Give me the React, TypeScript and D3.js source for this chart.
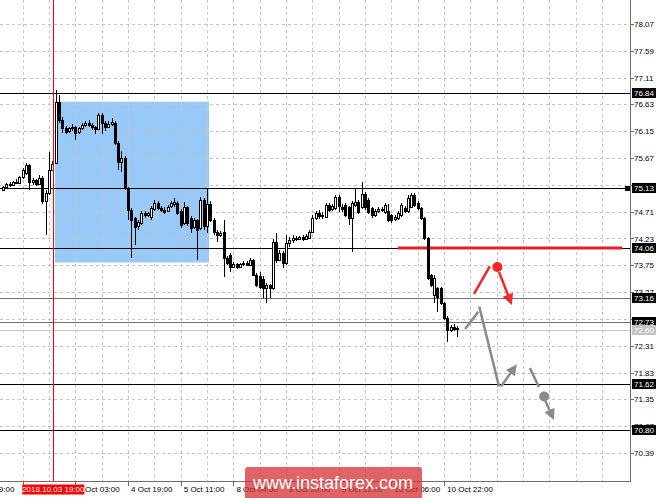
import React, { useRef, useEffect } from 'react';
import * as d3 from 'd3';

const width = 665;
const height = 498;
const plotRight = 630;
const plotBottom = 481;
const font = 'Liberation Sans, Arial, sans-serif';

// hourly candles: [open, high, low, close]
const candles: [number, number, number, number][] = [
  [75.10, 75.17, 75.08, 75.15], [75.15, 75.23, 75.13, 75.21], [75.21, 75.24, 75.15, 75.19], [75.19, 75.26, 75.17, 75.24],
  [75.24, 75.29, 75.20, 75.22], [75.22, 75.35, 75.20, 75.33], [75.33, 75.50, 75.30, 75.46], [75.40, 75.58, 75.37, 75.55],
  [75.55, 75.57, 75.10, 75.24], [75.24, 75.31, 75.19, 75.28], [75.28, 75.30, 75.17, 75.21], [75.21, 75.37, 75.19, 75.31],
  [75.31, 75.34, 74.85, 74.90], [74.90, 75.10, 74.29, 75.05], [75.05, 75.78, 75.00, 75.46], [75.46, 75.62, 75.43, 75.56],
  [75.58, 76.89, 75.56, 76.67], [76.67, 76.80, 76.30, 76.35], [76.35, 76.40, 76.12, 76.21], [76.21, 76.25, 76.10, 76.14],
  [76.14, 76.23, 76.12, 76.20], [76.20, 76.28, 76.15, 76.22], [76.22, 76.24, 75.99, 76.12], [76.12, 76.23, 76.10, 76.20],
  [76.20, 76.30, 76.18, 76.26], [76.26, 76.34, 76.22, 76.30], [76.30, 76.36, 76.22, 76.26], [76.26, 76.30, 76.18, 76.22],
  [76.22, 76.25, 76.10, 76.19], [76.19, 76.48, 76.17, 76.44], [76.44, 76.47, 76.10, 76.30], [76.30, 76.34, 76.15, 76.22],
  [76.22, 76.33, 76.20, 76.28], [76.28, 76.38, 76.25, 76.32], [76.30, 76.34, 75.90, 75.94], [75.94, 75.97, 75.46, 75.60],
  [75.60, 75.80, 75.42, 75.67], [75.67, 75.70, 75.10, 75.13], [75.13, 75.16, 74.56, 74.74], [74.74, 74.78, 73.88, 74.56],
  [74.60, 74.62, 74.11, 74.44], [74.44, 74.56, 74.38, 74.52], [74.51, 74.72, 74.48, 74.69], [74.69, 74.72, 74.60, 74.65],
  [74.65, 74.71, 74.62, 74.68], [74.62, 74.81, 74.56, 74.78], [74.76, 74.92, 74.72, 74.87], [74.87, 74.90, 74.74, 74.78],
  [74.78, 74.82, 74.70, 74.74], [74.74, 74.79, 74.67, 74.71], [74.72, 74.83, 74.70, 74.80], [74.80, 74.90, 74.77, 74.86],
  [74.84, 74.96, 74.79, 74.88], [74.87, 74.90, 74.65, 74.69], [74.72, 74.76, 74.42, 74.47], [74.51, 74.88, 74.47, 74.79],
  [74.79, 74.82, 74.45, 74.51], [74.60, 74.63, 74.33, 74.42], [74.44, 74.60, 74.40, 74.56], [74.56, 74.58, 73.85, 74.38],
  [74.42, 74.97, 74.38, 74.92], [74.92, 74.95, 74.38, 74.45], [74.45, 75.13, 74.33, 74.85], [74.85, 74.90, 74.52, 74.56],
  [74.56, 74.60, 74.30, 74.35], [74.35, 74.38, 74.17, 74.30], [74.30, 74.37, 74.26, 74.33], [74.35, 74.56, 73.54, 73.88],
  [73.88, 73.92, 73.76, 73.79], [73.94, 73.97, 73.63, 73.72], [73.72, 73.81, 73.70, 73.78], [73.78, 73.80, 73.68, 73.72],
  [73.72, 73.80, 73.70, 73.77], [73.77, 73.82, 73.74, 73.79], [73.79, 73.83, 73.73, 73.76], [73.76, 73.88, 73.74, 73.85],
  [73.85, 73.87, 73.55, 73.58], [73.58, 73.62, 73.37, 73.40], [73.55, 73.63, 73.33, 73.36], [73.50, 73.55, 73.17, 73.34],
  [73.34, 73.43, 73.08, 73.40], [73.40, 73.42, 73.17, 73.34], [73.34, 74.22, 73.31, 74.17], [74.17, 74.33, 73.80, 73.85],
  [73.85, 74.02, 73.82, 73.97], [73.97, 74.00, 73.70, 73.79], [73.79, 74.29, 73.76, 74.15], [74.15, 74.26, 74.08, 74.20],
  [74.20, 74.29, 74.15, 74.24], [74.24, 74.27, 74.18, 74.22], [74.22, 74.28, 74.20, 74.25], [74.25, 74.29, 74.19, 74.22],
  [74.22, 74.31, 74.20, 74.27], [74.24, 74.38, 74.22, 74.35], [74.35, 74.65, 74.32, 74.60], [74.60, 74.72, 74.56, 74.69],
  [74.69, 74.74, 74.58, 74.63], [74.63, 74.70, 74.58, 74.65], [74.62, 74.87, 74.60, 74.83], [74.83, 74.87, 74.70, 74.74],
  [74.76, 74.85, 74.72, 74.81], [74.78, 75.01, 74.74, 74.97], [74.97, 75.00, 74.70, 74.80], [74.80, 74.85, 74.70, 74.76],
  [74.83, 74.86, 74.62, 74.65], [74.79, 74.82, 74.47, 74.60], [74.60, 74.90, 73.99, 74.87], [74.83, 75.13, 74.80, 74.88],
  [74.88, 74.92, 74.66, 74.70], [74.80, 75.24, 74.76, 75.03], [75.03, 75.06, 74.74, 74.79], [74.92, 74.95, 74.66, 74.70],
  [74.78, 74.80, 74.60, 74.65], [74.65, 74.76, 74.62, 74.72], [74.72, 74.79, 74.69, 74.76], [74.76, 74.79, 74.70, 74.74],
  [74.70, 74.86, 74.67, 74.83], [74.72, 74.85, 74.52, 74.56], [74.65, 74.67, 74.51, 74.56], [74.58, 74.65, 74.55, 74.62],
  [74.60, 74.72, 74.57, 74.69], [74.65, 74.86, 74.62, 74.83], [74.78, 74.81, 74.69, 74.72], [74.72, 75.00, 74.69, 74.96],
  [74.80, 75.05, 74.78, 75.01], [75.01, 75.04, 74.80, 74.83], [74.87, 74.90, 74.74, 74.78], [74.78, 74.80, 74.56, 74.60],
  [74.60, 74.62, 74.20, 74.24], [74.24, 74.26, 73.49, 73.52], [73.58, 73.60, 73.36, 73.40], [73.22, 73.58, 73.08, 73.52],
  [73.34, 73.36, 72.91, 73.18], [73.34, 73.36, 73.04, 73.08], [73.08, 73.10, 72.77, 72.81], [72.81, 72.84, 72.38, 72.59],
  [72.59, 72.68, 72.56, 72.65], [72.65, 72.70, 72.58, 72.61], [72.61, 72.66, 72.47, 72.63],
];

const priceTicks = [78.07, 77.59, 77.11, 76.63, 76.15, 75.67, 75.19, 74.71, 74.23, 73.75, 73.27, 72.79, 72.31, 71.83, 71.35, 70.87, 70.39];
// the tick at bar 6 sits under the cursor label, so it has no text
const timeTickBars = [-10, 6, 22, 38, 54, 70, 86, 102, 118, 134];
const timeTickLabels = ['2 Oct 19:00', '', '4 Oct 03:00', '4 Oct 19:00', '5 Oct 11:00', '8 Oct 04:00', '8 Oct 20:00', '9 Oct 12:00', '10 Oct 06:00', '10 Oct 22:00'];
const gridBars = [-2, 6, 14, 22, 30, 38, 46, 54, 62, 70, 78, 86, 94, 102, 110, 118, 126, 134, 142, 150, 158, 166, 174, 182];

const levelPrices = [76.84, 75.13, 74.06, 73.16, 72.73, 72.60, 71.62, 70.80];
const levelKinds = ['black', 'black', 'black', 'gray', 'gray', 'light', 'black', 'black'];

const zoneBars = [15.8, 62.6];
const zonePrices = [76.68, 73.80];
const resistanceBars = [120, 188.1];
const resistancePrice = 74.06;
const cursorBar = 15.3;
const cursorLabel = '2018.10.03 19:00';

// forecast sketch
const redUpBars = [143.1, 147.9];
const redUpPrices = [73.24, 73.73];
const redDot = [150.2, 73.72];
const redDownBars = [150.7, 154.6];
const redDownPrices = [73.63, 73.04];
const grayUpBars = [140.4, 144.4];
const grayUpPrices = [72.61, 72.92];
const grayDropBars = [144.7, 150.7];
const grayDropPrices = [73.01, 71.58];
const grayBounceBars = [151.3, 156.1];
const grayBouncePrices = [71.58, 71.98];
const grayFallBars = [160.1, 162.8];
const grayFallPrices = [71.91, 71.57];
const grayDot = [164.4, 71.40];
const grayLastBars = [164.8, 167.4];
const grayLastPrices = [71.32, 70.98];

const kindColor: Record<string, string> = { black: '#000', gray: '#707070', light: '#c8c8c8' };

export default function App() {
  const ref = useRef<SVGSVGElement>(null);

  useEffect(() => {
    if (!ref.current) return;
    const svg = d3.select(ref.current);
    svg.selectAll('*').remove();

    const x = d3.scaleLinear().domain([0, 190]).range([2.96, 2.96 + 3.2917 * 190]);
    const y = d3.scaleLinear().domain([70.39, 78.07]).range([453, 24]);

    svg.append('rect').attr('width', width).attr('height', height).attr('fill', '#fff');

    // zone
    svg.append('rect')
      .attr('x', x(zoneBars[0])).attr('width', x(zoneBars[1]) - x(zoneBars[0]))
      .attr('y', y(zonePrices[0])).attr('height', y(zonePrices[1]) - y(zonePrices[0]))
      .attr('fill', '#99c9f7');

    // grid
    const grid = svg.append('g').attr('stroke', '#c4c4c4').attr('stroke-dasharray', '3,3').attr('shape-rendering', 'crispEdges');
    grid.selectAll('line.h').data(priceTicks).enter().append('line')
      .attr('x1', 0).attr('x2', plotRight).attr('y1', d => Math.round(y(d)) + 0.5).attr('y2', d => Math.round(y(d)) + 0.5);
    grid.selectAll('line.v').data(gridBars).enter().append('line')
      .attr('y1', 0).attr('y2', plotBottom).attr('x1', d => Math.round(x(d)) + 0.5).attr('x2', d => Math.round(x(d)) + 0.5);

    // levels
    svg.append('g').selectAll('line').data(levelPrices).enter().append('line')
      .attr('x1', 0).attr('x2', plotRight)
      .attr('y1', d => Math.round(y(d)) + 0.5).attr('y2', d => Math.round(y(d)) + 0.5)
      .attr('stroke', (d, i) => kindColor[levelKinds[i]]).attr('stroke-width', 1)
      .attr('shape-rendering', 'crispEdges');

    svg.append('line')
      .attr('x1', x(resistanceBars[0])).attr('x2', x(resistanceBars[1]))
      .attr('y1', y(resistancePrice)).attr('y2', y(resistancePrice))
      .attr('stroke', '#e3202a').attr('stroke-width', 3);

    // candles
    const c = svg.append('g').attr('shape-rendering', 'crispEdges');
    const cg = c.selectAll('g').data(candles).enter().append('g');
    cg.append('line')
      .attr('x1', (d, i) => Math.round(x(i)) + 0.5).attr('x2', (d, i) => Math.round(x(i)) + 0.5)
      .attr('y1', d => y(d[1])).attr('y2', d => y(d[2]))
      .attr('stroke', '#000');
    cg.append('rect')
      .attr('x', (d, i) => Math.round(x(i)) - 0.5).attr('width', 2)
      .attr('y', d => Math.round(y(Math.max(d[0], d[3]))) + 0.5)
      .attr('height', d => Math.max(1, Math.round(Math.abs(y(d[0]) - y(d[3])))))
      .attr('fill', d => d[3] >= d[0] ? '#fff' : '#000')
      .attr('stroke', '#000');

    // cursor line
    svg.append('rect')
      .attr('x', Math.round(x(cursorBar))).attr('width', 1)
      .attr('y', 0).attr('height', plotBottom)
      .style('fill', '#ff0000');

    // forecast sketch
    const line = (bars: number[], prices: number[], color: string, arrow: boolean) => {
      const x1 = x(bars[0]), y1 = y(prices[0]), x2 = x(bars[1]), y2 = y(prices[1]);
      const a = Math.atan2(y2 - y1, x2 - x1);
      const len = 11, hw = 5.5;
      const ex = arrow ? x2 - Math.cos(a) * len * 0.8 : x2;
      const ey = arrow ? y2 - Math.sin(a) * len * 0.8 : y2;
      svg.append('line').attr('x1', x1).attr('y1', y1).attr('x2', ex).attr('y2', ey)
        .attr('stroke', color).attr('stroke-width', 2.5);
      if (arrow) {
        const bx = x2 - Math.cos(a) * len, by = y2 - Math.sin(a) * len;
        const pts: [number, number][] = [
          [x2, y2],
          [bx + Math.sin(a) * hw, by - Math.cos(a) * hw],
          [bx - Math.sin(a) * hw, by + Math.cos(a) * hw],
        ];
        svg.append('path').attr('d', d3.line()(pts) + 'Z').attr('fill', color);
      }
    };
    line(redUpBars, redUpPrices, '#f02828', false);
    line(redDownBars, redDownPrices, '#f02828', true);
    svg.append('circle').attr('cx', x(redDot[0])).attr('cy', y(redDot[1])).attr('r', 5).attr('fill', '#f02828');
    line(grayUpBars, grayUpPrices, '#8a8a8a', false);
    line(grayDropBars, grayDropPrices, '#8a8a8a', false);
    line(grayBounceBars, grayBouncePrices, '#8a8a8a', true);
    line(grayFallBars, grayFallPrices, '#8a8a8a', false);
    svg.append('circle').attr('cx', x(grayDot[0])).attr('cy', y(grayDot[1])).attr('r', 5).attr('fill', '#8a8a8a');
    line(grayLastBars, grayLastPrices, '#8a8a8a', true);

    // axes
    svg.append('line').attr('x1', plotRight + 0.5).attr('x2', plotRight + 0.5).attr('y1', 0).attr('y2', plotBottom + 0.5)
      .attr('stroke', '#6e6e6e').attr('shape-rendering', 'crispEdges');
    svg.append('line').attr('x1', 0).attr('x2', plotRight + 0.5).attr('y1', plotBottom + 0.5).attr('y2', plotBottom + 0.5)
      .attr('stroke', '#6e6e6e').attr('shape-rendering', 'crispEdges');

    const yAxis = svg.append('g').attr('font-family', font).attr('font-size', 8).attr('fill', '#000');
    yAxis.selectAll('line').data(priceTicks).enter().append('line')
      .attr('x1', plotRight).attr('x2', plotRight + 4)
      .attr('y1', d => Math.round(y(d)) + 0.5).attr('y2', d => Math.round(y(d)) + 0.5)
      .attr('stroke', '#6e6e6e').attr('shape-rendering', 'crispEdges');
    yAxis.selectAll('text').data(priceTicks).enter().append('text')
      .attr('x', plotRight + 4).attr('y', d => y(d) + 3)
      .text(d => d.toFixed(2));

    const xAxis = svg.append('g').attr('font-family', font).attr('font-size', 8).attr('fill', '#000');
    xAxis.selectAll('line').data(timeTickBars).enter().append('line')
      .attr('x1', d => Math.round(x(d)) + 0.5).attr('x2', d => Math.round(x(d)) + 0.5)
      .attr('y1', plotBottom).attr('y2', plotBottom + 5)
      .attr('stroke', '#6e6e6e').attr('shape-rendering', 'crispEdges');
    xAxis.selectAll('text').data(timeTickBars.filter((d, i) => timeTickLabels[i])).enter().append('text')
      .attr('x', d => x(d) + 3).attr('y', plotBottom + 11)
      .text(d => timeTickLabels[timeTickBars.indexOf(d)]);

    // level price boxes
    const boxes = svg.append('g').attr('font-family', font).attr('font-size', 8);
    levelPrices.forEach((p, i) => {
      const yc = Math.round(y(p));
      boxes.append('rect').attr('x', plotRight + 2).attr('y', yc - 5).attr('width', 24).attr('height', 10)
        .attr('fill', levelKinds[i] === 'light' ? '#c4c4c4' : '#000');
      boxes.append('text').attr('x', plotRight + 14).attr('y', yc + 3).attr('text-anchor', 'middle')
        .attr('fill', '#fff').text(p.toFixed(2));
    });
    const y513 = Math.round(y(levelPrices[1]));
    svg.append('rect').attr('x', plotRight - 5).attr('y', y513 - 2).attr('width', 5).attr('height', 5).attr('fill', '#000');

    // cursor time label
    const cx = x(cursorBar);
    svg.append('rect').attr('x', cx - 31).attr('y', plotBottom + 3.5).attr('width', 62).attr('height', 10).attr('fill', '#ff0000');
    svg.append('text').attr('x', cx).attr('y', plotBottom + 11).attr('text-anchor', 'middle')
      .attr('font-family', font).attr('font-size', 8).attr('fill', '#fff').text(cursorLabel);

    // watermark
    svg.append('rect').attr('x', 245).attr('y', 467).attr('width', 177).attr('height', 34).attr('rx', 3)
      .attr('fill', 'rgba(214,48,49,0.75)');
    svg.append('text').attr('x', 333).attr('y', 489).attr('text-anchor', 'middle')
      .attr('font-family', font).attr('font-size', 18).attr('fill', '#fff').text('www.instaforex.com');
  }, []);

  return (
    <svg ref={ref} width={width} height={height} style={{ position: 'absolute', left: 0, top: 0 }} />
  );
}
